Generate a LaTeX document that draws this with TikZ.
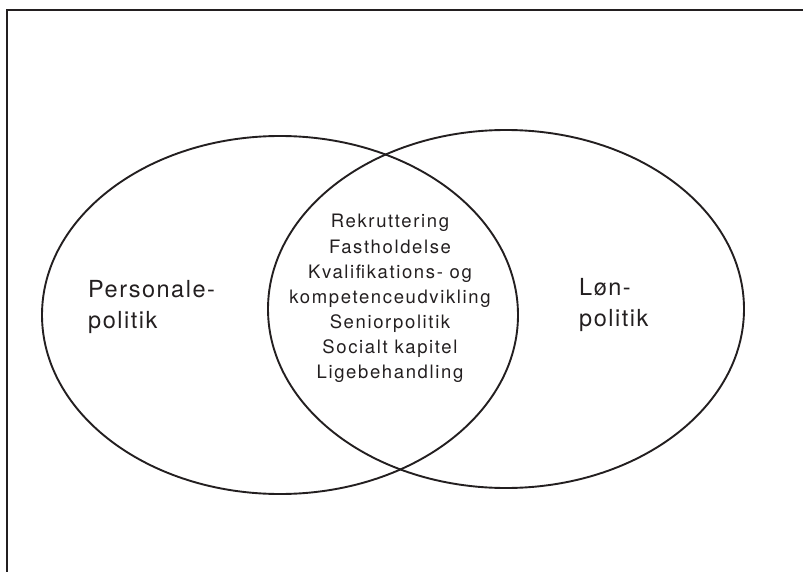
\documentclass[tikz,border=0pt]{standalone}
\usepackage{fontspec}
\setmainfont{TeX Gyre Heros}
\usetikzlibrary{shapes.geometric}
\definecolor{ink}{HTML}{231F20}
\tikzset{
  circ/.style={draw=ink, line width=1.9pt, ellipse, inner sep=0pt,
    minimum width=476pt, minimum height=358pt},
  sidelabel/.style={text=ink, inner sep=0pt, align=left,
    font=\fontsize{23.5}{31}\selectfont\addfontfeature{LetterSpace=6.5}},
  midlabel/.style={text=ink, inner sep=0pt, align=center,
    font=\fontsize{18.5}{25.1}\selectfont\addfontfeature{LetterSpace=8.8}},
}
\begin{document}
\begin{tikzpicture}[x=1pt,y=-1pt]
\useasboundingbox (0,0) rectangle (803,572);
\draw[ink, line width=2pt] (7,573) -- (7,10) -- (804,10);
\node[circ] (left) at (280,315) {};
\node[circ] (right) at (506,309) {};
\node[sidelabel, anchor=base west] (pers) at (88,328) {Personale-\\politik};
\node[sidelabel, anchor=base west] (lon) at (579,326) {Løn-\\politik};
\node[midlabel, anchor=base] (mid) at (390,378.5) {Rekruttering\\Fastholdelse\\Kvalifikations- og\\kompetenceudvikling\\Seniorpolitik\\Socialt kapitel\\Ligebehandling};
\end{tikzpicture}
\end{document}
